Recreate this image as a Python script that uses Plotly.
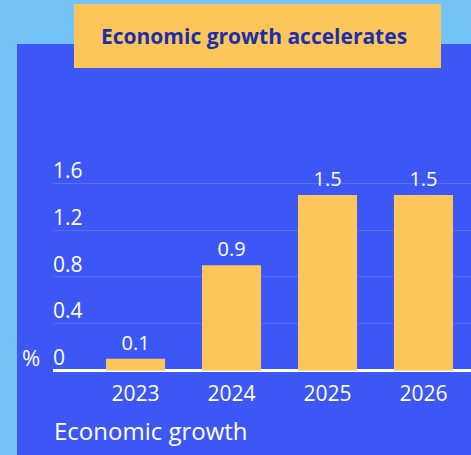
import plotly.graph_objects as go

years = ["2023", "2024", "2025", "2026"]
growth = [0.1, 0.9, 1.5, 1.5]
growth_labels = ["0.1", "0.9", "1.5", "1.5"]
y_ticks = [0, 0.4, 0.8, 1.2, 1.6]
y_tick_text = ["0", "0.4", "0.8", "1.2", "1.6"]

LIGHT = "#74C3F8"
PANEL = "#3D56F6"
YELLOW = "#FDC65B"
NAVY = "#1C2FA9"
GRID = "#5571F7"
FONT = "Open Sans"

W, H = 471, 455
L, R, T, B = 53, 0, 140, 81
pw, ph = W - L - R, H - T - B

def px_x(px):
    return (px - L) / pw

def px_y(py):
    return (H - B - py) / ph

fig = go.Figure(go.Bar(
    x=years, y=growth, text=growth_labels, textposition="outside",
    textfont=dict(color="white", size=20, family=FONT),
    marker=dict(color=YELLOW, line=dict(width=0)),
    cliponaxis=False, hoverinfo="skip",
))

fig.update_layout(
    width=W, height=H,
    margin=dict(l=L, r=R, t=T, b=B, pad=0),
    paper_bgcolor=LIGHT, plot_bgcolor="rgba(0,0,0,0)",
    showlegend=False, bargap=0.385,
    font=dict(family=FONT, color="white"),
    xaxis=dict(type="category", range=[-0.86, 3.495], showgrid=False,
               showline=False, zeroline=False, ticks="",
               tickfont=dict(size=21, color="white", family=FONT),
               ticklabelstandoff=5),
    yaxis=dict(range=[-0.03, 1.97], tickvals=y_ticks, ticktext=y_tick_text,
               showgrid=True, gridcolor=GRID, gridwidth=1,
               zeroline=True, zerolinecolor="white", zerolinewidth=3,
               showline=False, ticks="", ticklabelposition="inside top",
               ticklabelstandoff=-3, ticklabelshift=2,
               tickfont=dict(size=21, color="white", family=FONT)),
    shapes=[
        dict(type="rect", xref="paper", yref="paper",
             x0=px_x(17), x1=px_x(472), y0=px_y(456), y1=px_y(44),
             fillcolor=PANEL, line=dict(width=0), layer="below"),
        dict(type="rect", xref="paper", yref="paper",
             x0=px_x(74), x1=px_x(441), y0=px_y(68), y1=px_y(4),
             fillcolor=YELLOW, line=dict(width=0), layer="above"),
    ],
    annotations=[
        dict(text="<b>Economic growth accelerates</b>", xref="paper", yref="paper",
             x=px_x(254), y=px_y(36), xanchor="center", yanchor="middle",
             showarrow=False, font=dict(size=21, color=NAVY, family=FONT)),
        dict(text="%", xref="paper", yref="paper",
             x=px_x(42), y=px_y(357), xanchor="right", yanchor="middle",
             showarrow=False, font=dict(size=22, color="white", family=FONT)),
        dict(text="Economic growth", xref="paper", yref="paper",
             x=px_x(52), y=px_y(430), xanchor="left", yanchor="middle",
             showarrow=False, font=dict(size=24, color="white", family=FONT)),
    ],
)

fig.write_html("out.html")
